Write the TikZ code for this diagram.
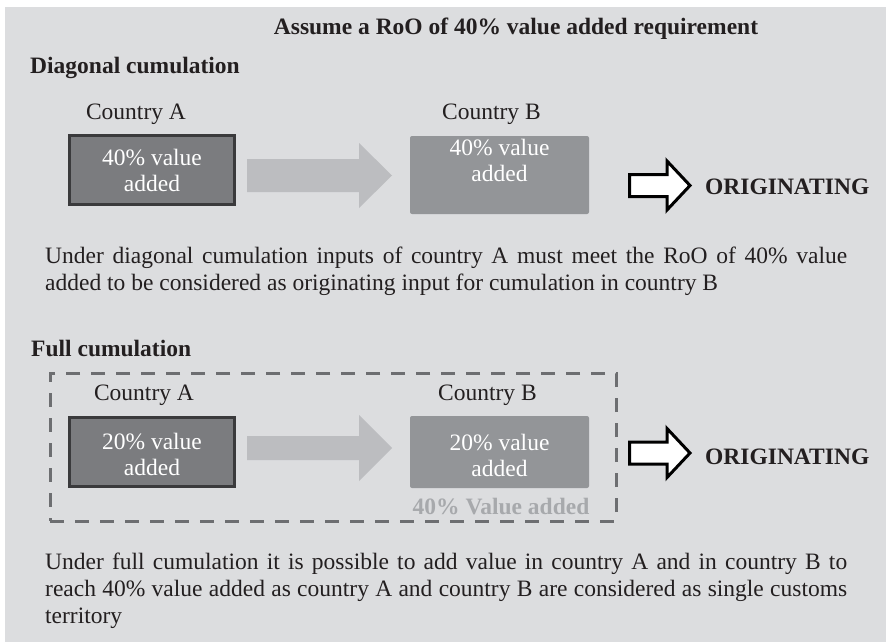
\documentclass[tikz,border=0pt]{standalone}
\usepackage{fontspec}
\setmainfont{Liberation Serif}
\usetikzlibrary{calc}

\definecolor{panelgray}{HTML}{DCDDDF}
\definecolor{darkfill}{HTML}{7B7C7F}
\definecolor{darkedge}{HTML}{3A3A3C}
\definecolor{midfill}{HTML}{939598}
\definecolor{flowgray}{HTML}{BCBDC0}
\definecolor{dashgray}{HTML}{6D6E71}
\definecolor{sumgray}{HTML}{A7A9AC}
\definecolor{ink}{HTML}{231F20}

\tikzset{
    country/.style={inner sep=0pt, text=ink, font=\fontsize{23.5}{27}\selectfont},
    heading/.style={country, font=\fontsize{23.5}{27}\selectfont\bfseries},
    darkbox/.style={draw=darkedge, line width=3pt, fill=darkfill, minimum width=165pt,
        minimum height=69pt, inner sep=0pt},
    greybox/.style={fill=midfill, rounded corners=2pt, minimum width=179pt, inner sep=0pt},
    boxtext/.style={inner sep=0pt, text=white, align=center, font=\fontsize{23.5}{26}\selectfont},
    flow/.style={fill=flowgray},
    outlined/.style={draw=black, fill=white, line width=3pt, line join=miter},
    para/.style={country, text width=802pt, align=justify, anchor=north west},
    groupline/.style={draw=dashgray, line width=3pt, dash pattern=on 14pt off 11pt,
        minimum width=566pt, minimum height=148pt, inner sep=0pt},
}

\begin{document}
\begin{tikzpicture}[x=1pt, y=-1pt]
    \useasboundingbox (0,0) rectangle (886,642);
    \fill[white] (0,0) rectangle (886,642);
    \fill[panelgray] (5,7) rectangle (886,642);

    \node[heading] (title) at (516,29) {Assume a RoO of 40\% value added requirement};

    % Diagonal cumulation
    \node[heading, anchor=west] (diag) at (30,68) {Diagonal cumulation};
    \node[country] (ctyA1) at (136,114) {Country A};
    \node[country] (ctyB1) at (491.5,114) {Country B};
    \node[darkbox] (boxA1) at (152,170) {};
    \node[boxtext] (txtA1) at (boxA1) {40\% value\\added};
    \node[greybox, minimum height=78pt] (boxB1) at (499.5,175) {};
    \node[boxtext] (txtB1) at ($(boxB1)+(0,-15)$) {40\% value\\added};
    \fill[flow] (247,159) -- (359,159) -- (359,143) -- (392,175.5) -- (359,208)
        -- (359,192) -- (247,192) -- cycle;
    \node[heading, anchor=west] (orig1) at (705,187) {ORIGINATING};
    \node[para] (note1) at (45,247) {Under diagonal cumulation inputs of country A must meet
        the RoO of 40\% value\linebreak added to be considered as originating input for
        cumulation in country B};

    % Full cumulation
    \node[heading, anchor=west] (full) at (31,348) {Full cumulation};
    \node[groupline] (group) at (333,447) {};
    \node[country] (ctyA2) at (144,395) {Country A};
    \node[country] (ctyB2) at (487.5,395) {Country B};
    \node[darkbox] (boxA2) at (152,452) {};
    \node[boxtext] (txtA2) at ($(boxA2)+(0,2)$) {20\% value\\added};
    \node[greybox, minimum height=72pt] (boxB2) at (499.5,452) {};
    \node[boxtext] (txtB2) at ($(boxB2)+(0,3)$) {20\% value\\added};
    \fill[flow] (247,436) -- (359,436) -- (359,415) -- (392,448) -- (359,481)
        -- (359,460) -- (247,460) -- cycle;
    \node[heading, text=sumgray] (total) at (501,507) {40\% Value added};
    \node[heading, anchor=west] (orig2) at (705,457) {ORIGINATING};
    \node[para] (note2) at (45,553) {Under full cumulation it is possible to add value in
        country A and in country B to\linebreak reach 40\% value added as country A and
        country B are considered as single customs\linebreak territory};

    % outline arrows to ORIGINATING
    \foreach \y in {185.5,453}
        \draw[outlined] (629.5,\y-11) -- (667,\y-11) -- (667,\y-24.5) -- (690,\y)
            -- (667,\y+24.5) -- (667,\y+11) -- (629.5,\y+11) -- cycle;
\end{tikzpicture}
\end{document}
